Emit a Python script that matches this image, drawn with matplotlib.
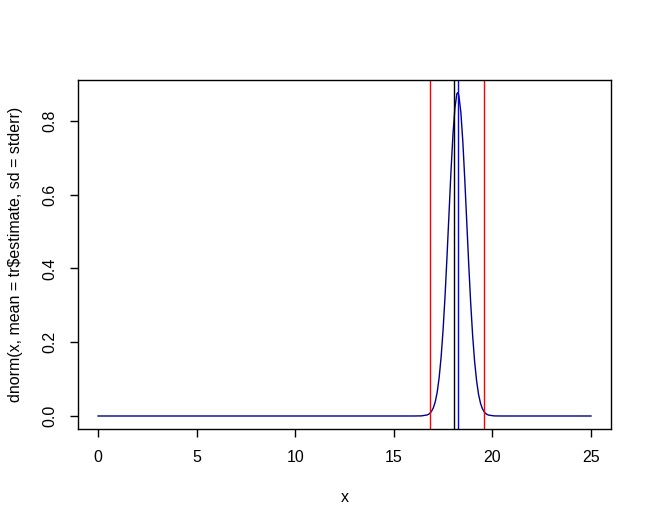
import matplotlib
matplotlib.use("Agg")
import matplotlib.pyplot as plt

plt.rcParams['font.family'] = ['Liberation Sans', 'DejaVu Sans']

# density curve
x = [0, 5, 10, 15, 16.0, 16.4, 16.7, 16.8, 16.9, 17.0, 17.1, 17.2, 17.3, 17.4,
     17.5, 17.6, 17.7, 17.8, 17.9, 18.0, 18.1, 18.2, 18.25, 18.3, 18.4, 18.5,
     18.6, 18.7, 18.8, 18.9, 19.0, 19.1, 19.2, 19.3, 19.4, 19.5, 19.6, 19.7,
     19.8, 20.1, 20.5, 25]
dens = [0, 0, 0, 0, 0.0, 0.0003, 0.0029, 0.0059, 0.0115, 0.0214, 0.038, 0.064,
        0.104, 0.160, 0.234, 0.326, 0.434, 0.549, 0.663, 0.763, 0.836, 0.874,
        0.877, 0.869, 0.824, 0.745, 0.641, 0.526, 0.411, 0.306, 0.217, 0.147,
        0.095, 0.058, 0.034, 0.019, 0.010, 0.0051, 0.0025, 0.0002, 0.0, 0]

ci_lines = [16.86, 19.59]   # red
ref_line = 18.04            # black
est_line = 18.24            # blue

W, H = 652, 527
fig = plt.figure(figsize=(W / 100, H / 100), dpi=100)
ax = fig.add_axes([78.3 / W, 1 - 428.9 / H, 532.4 / W, 349.2 / H])

ax.plot(x, dens, color="#00008B", lw=1)
for v in ci_lines:
    ax.axvline(v, color="red", lw=1)
ax.axvline(ref_line, color="black", lw=1)
ax.axvline(est_line, color="blue", lw=1)

ax.set_xlim(-1, 26)
ax.set_ylim(-0.035, 0.912)
ax.set_xticks([0, 5, 10, 15, 20, 25])
ax.set_yticks([0.0, 0.2, 0.4, 0.6, 0.8])
ax.set_yticklabels(["0.0", "0.2", "0.4", "0.6", "0.8"], rotation=90, va="center")
ax.tick_params(length=6, width=1, labelsize=11.5, pad=9)
for s in ax.spines.values():
    s.set_linewidth(1)

# axis titles placed like R's margin text
fig.text((78.3 + 266.2) / W, 1 - 498 / H, "x", fontsize=11.5, ha="center", va="center")
fig.text(16 / W, 1 - 254 / H, "dnorm(x, mean = tr$estimate, sd = stderr)",
         fontsize=11.5, rotation=90, ha="center", va="center")

fig.savefig("out.png", dpi=100)
